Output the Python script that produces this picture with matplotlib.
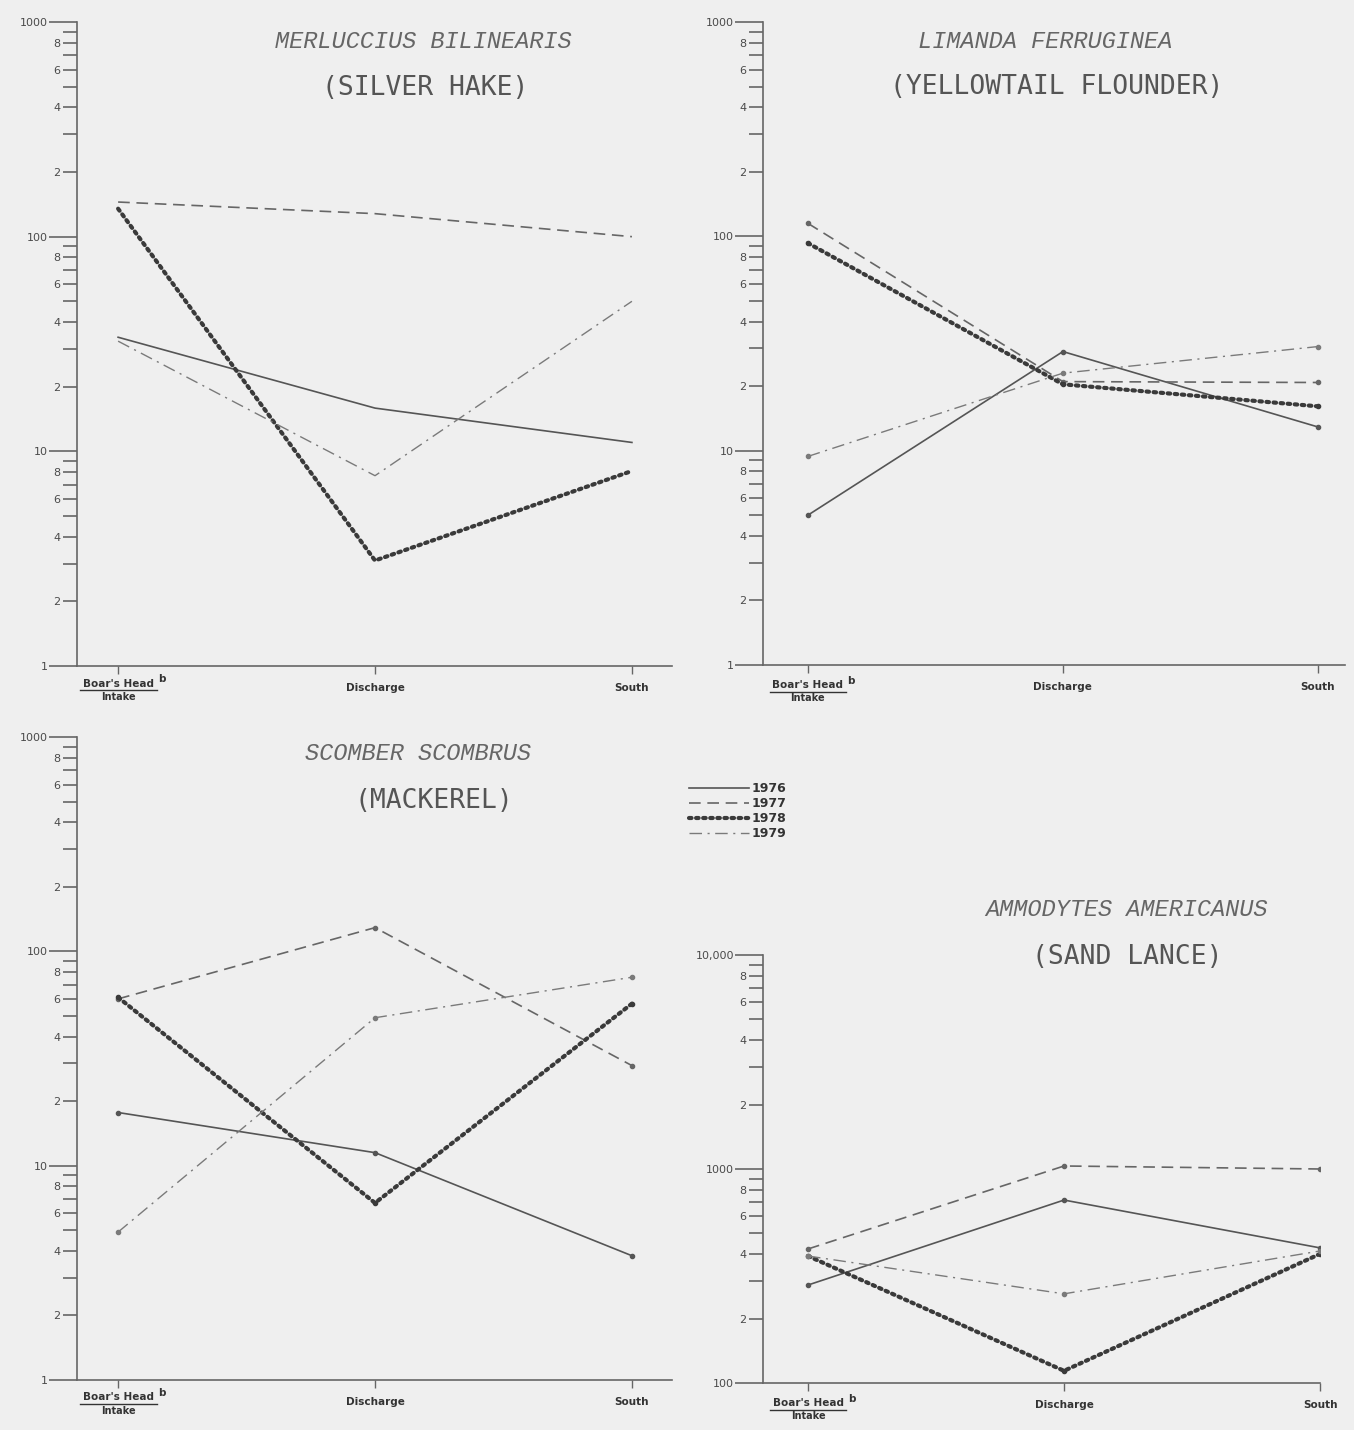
import matplotlib
matplotlib.use('Agg')
import matplotlib.pyplot as plt
import matplotlib.transforms as mtransforms

# stations along the x axis, years as series
stations = [0, 1, 2]
station_names = ["Boar's Head", 'Discharge', 'South']
years = ['1976', '1977', '1978', '1979']

hake_1976 = [34, 15.9, 11]
hake_1977 = [145, 128, 100]
hake_1978 = [135, 3.1, 8.1]
hake_1979 = [32.6, 7.7, 50]

flounder_1976 = [5.0, 29, 12.9]
flounder_1977 = [115, 21, 20.8]
flounder_1978 = [93, 20.4, 16.1]
flounder_1979 = [9.4, 23, 30.6]

mackerel_1976 = [17.7, 11.5, 3.8]
mackerel_1977 = [60, 129, 29.3]
mackerel_1978 = [61, 6.7, 57]
mackerel_1979 = [4.9, 49, 75.7]

lance_1976 = [287, 716, 428]
lance_1977 = [423, 1033, 1000]
lance_1978 = [392, 114, 401]
lance_1979 = [392, 261, 414]

bg = '#efefef'
ink = '#4a4a4a'

styles = {
    '1976': dict(linestyle='-', lw=1.2, color='#555555'),
    '1977': dict(linestyle=(0, (7, 4)), lw=1.2, color='#666666'),
    '1978': dict(linestyle=(0, (0.6, 1.1)), lw=3.0, color='#3a3a3a', dash_capstyle='round'),
    '1979': dict(linestyle=(0, (9, 4, 1.5, 4)), lw=1.0, color='#7a7a7a'),
}

W, H = 1354, 1430
fig = plt.figure(figsize=(W / 100, H / 100), dpi=100, facecolor=bg)


def make_axes(x0, x1, ytop, ybot):
    return fig.add_axes([x0 / W, 1 - ybot / H, (x1 - x0) / W, (ybot - ytop) / H])


def setup(ax, series, lo, hi, xlim, title, common, tpos, xlab_dy):
    ax.set_facecolor('none')
    for yr, vals in zip(years, series):
        ax.plot(stations, vals, marker='o', ms=3, label=yr, **styles[yr])
    ax.set_yscale('log')
    ax.set_ylim(lo, hi)
    ax.set_xlim(*xlim)
    for s in ['top', 'right']:
        ax.spines[s].set_visible(False)
    for s in ['left', 'bottom']:
        ax.spines[s].set_color('#666666')
        ax.spines[s].set_linewidth(1.2)

    # y ticks: decades long (major), 2..9 short (minor), only 2/4/6/8 labelled
    decades = []
    d = lo
    while d <= hi:
        decades.append(d)
        d *= 10
    major_labels = ['10,000' if dd == 10000 else str(int(dd)) for dd in decades]
    minor, minor_labels = [], []
    for dd in decades[:-1]:
        for m in range(2, 10):
            minor.append(dd * m)
            minor_labels.append(str(m) if m % 2 == 0 else '')
    ax.set_yticks(decades, major_labels)
    ax.set_yticks(minor, minor_labels, minor=True)
    ax.tick_params(axis='y', which='major', length=20, width=1.2, color='#666666',
                   labelsize=8, labelcolor=ink, pad=1)
    ax.tick_params(axis='y', which='minor', length=10, width=1.2, color='#666666',
                   labelsize=8, labelcolor=ink, pad=2)

    ax.set_xticks(stations, ['', station_names[1], station_names[2]])
    ax.tick_params(axis='x', length=6, width=1, color='#666666', labelsize=7.5,
                   labelcolor='#333333', pad=6)
    for lbl in ax.get_xticklabels():
        lbl.set_fontweight('bold')

    trans = mtransforms.blended_transform_factory(ax.transData, ax.transAxes)
    t1 = mtransforms.offset_copy(trans, fig=fig, x=0, y=-xlab_dy, units='points')
    ax.text(0, 0, "Boar's Head", transform=t1, ha='center', va='top', fontsize=7.5,
            fontweight='bold', color='#333333')
    ax.text(0.155, 0, 'b', transform=mtransforms.offset_copy(trans, fig=fig, x=0, y=-xlab_dy + 3, units='points'),
            ha='left', va='top', fontsize=7.5, fontweight='bold', color='#333333')
    t2 = mtransforms.offset_copy(trans, fig=fig, x=0, y=-xlab_dy - 9.5, units='points')
    ax.plot([-0.15, 0.15], [0, 0], transform=mtransforms.offset_copy(trans, fig=fig, x=0, y=-xlab_dy - 8.5, units='points'),
            color='#333333', lw=1, clip_on=False)
    ax.text(0, 0, 'Intake', transform=t2, ha='center', va='top', fontsize=7,
            fontweight='bold', color='#333333')

    fig.text(tpos[0] / W, 1 - tpos[1] / H, title, ha='center', va='center',
             fontsize=17, style='italic', family='Liberation Mono', color='#666666')
    fig.text(tpos[2] / W, 1 - tpos[3] / H, common, ha='center', va='center',
             fontsize=19, family='DejaVu Sans Mono', color='#555555')


ax1 = make_axes(77, 672, 22, 666)
setup(ax1, [hake_1976, hake_1977, hake_1978, hake_1979], 1, 1000, (-0.16, 2.156),
      'MERLUCCIUS BILINEARIS', '(SILVER HAKE)', (423, 42, 425, 88), 9)

ax2 = make_axes(763, 1345, 22, 665)
setup(ax2, [flounder_1976, flounder_1977, flounder_1978, flounder_1979], 1, 1000, (-0.176, 2.106),
      'LIMANDA FERRUGINEA', '(YELLOWTAIL FLOUNDER)', (1045, 42, 1057, 87), 11)

ax3 = make_axes(77, 672, 737, 1380)
setup(ax3, [mackerel_1976, mackerel_1977, mackerel_1978, mackerel_1979], 1, 1000, (-0.16, 2.156),
      'SCOMBER SCOMBRUS', '(MACKEREL)', (418, 753, 434, 801), 9)

ax4 = make_axes(763, 1320, 955, 1383)
setup(ax4, [lance_1976, lance_1977, lance_1978, lance_1979], 100, 10000, (-0.176, 2.0),
      'AMMODYTES AMERICANUS', '(SAND LANCE)', (1126, 910, 1127, 957), 11)

handles, labels = ax1.get_legend_handles_labels()
for h in handles:
    h.set_marker('')
leg = fig.legend(handles, labels, loc='upper left', bbox_to_anchor=(683 / W, 1 - 776 / H),
                 frameon=False, fontsize=9, handlelength=4.8, handletextpad=0.2,
                 labelspacing=0.15, borderpad=0)
for t in leg.get_texts():
    t.set_color('#333333')
    t.set_fontweight('bold')

fig.savefig('out.png', dpi=100, facecolor=bg)
